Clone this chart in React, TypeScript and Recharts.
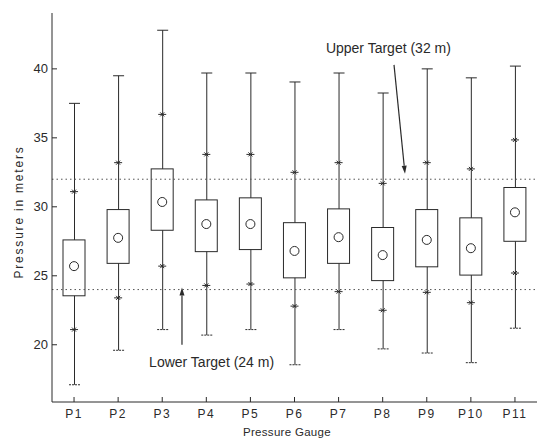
import React from 'react';
import { ComposedChart, Bar, Line, XAxis, YAxis, ReferenceLine, ReferenceDot } from 'recharts';

const gauges = ['P1', 'P2', 'P3', 'P4', 'P5', 'P6', 'P7', 'P8', 'P9', 'P10', 'P11'];
const minValues = [17.1, 19.6, 21.1, 20.7, 21.1, 18.55, 21.1, 19.7, 19.4, 18.7, 21.2];
const p10Values = [21.1, 23.4, 25.7, 24.3, 24.4, 22.8, 23.85, 22.5, 23.8, 23.05, 25.2];
const q1Values = [23.55, 25.9, 28.3, 26.75, 26.9, 24.85, 25.9, 24.65, 25.65, 25.05, 27.5];
const medianValues = [25.7, 27.75, 30.35, 28.75, 28.75, 26.8, 27.8, 26.5, 27.6, 27.0, 29.6];
const q3Values = [27.6, 29.8, 32.75, 30.5, 30.65, 28.85, 29.85, 28.5, 29.8, 29.2, 31.4];
const p90Values = [31.1, 33.2, 36.7, 33.8, 33.8, 32.5, 33.2, 31.7, 33.2, 32.75, 34.85];
const maxValues = [37.5, 39.5, 42.8, 39.7, 39.7, 39.05, 39.7, 38.25, 40.0, 39.35, 40.2];
const yTicks = [20, 25, 30, 35, 40];
const upperTarget = 32;
const lowerTarget = 24;
const upperLabel = 'Upper Target (32 m)';
const lowerLabel = 'Lower Target (24 m)';

const data = gauges.map((g, i) => ({
  gauge: g,
  idx: i + 1,
  whisker: [minValues[i], maxValues[i]],
  box: [q1Values[i], q3Values[i]],
  median: medianValues[i],
  p10: p10Values[i],
  p90: p90Values[i],
}));

const INK = '#2a2a2a';
const FONT = '"Liberation Sans", Arial, sans-serif';

const WhiskerShape = (props: any) => {
  const { x, y, width, height } = props;
  const top = Math.min(y, y + height);
  const bottom = Math.max(y, y + height);
  const cx = x + width / 2;
  return (
    <g stroke={INK} strokeWidth={1} fill="none">
      <line x1={cx} y1={top} x2={cx} y2={bottom} />
      <line x1={x} y1={top} x2={x + width} y2={top} />
      <line x1={x} y1={bottom} x2={x + width} y2={bottom} strokeDasharray="2 1" />
    </g>
  );
};

const BoxShape = (props: any) => {
  const { x, y, width, height } = props;
  const top = Math.min(y, y + height);
  const h = Math.abs(height);
  return <rect x={x} y={top} width={width} height={h} fill="#fff" stroke={INK} strokeWidth={1} />;
};

const CircleDot = (props: any) => {
  const { cx, cy, index } = props;
  if (cx == null || cy == null) return <g key={`c${index}`} />;
  return <circle key={`c${index}`} cx={cx} cy={cy} r={4.5} fill="none" stroke={INK} strokeWidth={1} />;
};

const XMark = (props: any) => {
  const { cx, cy, index, dataKey } = props;
  if (cx == null || cy == null) return <g key={`x${dataKey}${index}`} />;
  return (
    <g key={`x${dataKey}${index}`} stroke={INK} strokeWidth={1}>
      <line x1={cx - 4} y1={cy} x2={cx + 4} y2={cy} />
      <line x1={cx - 2} y1={cy - 2} x2={cx + 2} y2={cy + 2} />
      <line x1={cx - 2} y1={cy + 2} x2={cx + 2} y2={cy - 2} />
    </g>
  );
};

const ArrowShape = (props: any) => {
  const { x1, y1, x2, y2 } = props;
  const ang = Math.atan2(y2 - y1, x2 - x1);
  const len = 8;
  const half = 2.5;
  const bx = x2 - len * Math.cos(ang);
  const by = y2 - len * Math.sin(ang);
  const px = -Math.sin(ang) * half;
  const py = Math.cos(ang) * half;
  return (
    <g>
      <line x1={x1} y1={y1} x2={bx} y2={by} stroke={INK} strokeWidth={1.2} />
      <polygon points={`${x2},${y2} ${bx + px},${by + py} ${bx - px},${by - py}`} fill={INK} />
    </g>
  );
};

const BottomTick = (props: any) => {
  const { x, y, payload } = props;
  return (
    <g>
      <line x1={x} y1={y} x2={x} y2={y - 5} stroke={INK} strokeWidth={1} />
      <text x={x} y={y + 12} textAnchor="middle" dominantBaseline="central" fontSize={12} letterSpacing={1.5} fill={INK} fontFamily={FONT}>
        {payload.value}
      </text>
    </g>
  );
};

const TopTick = (props: any) => {
  const { x, y } = props;
  return <line x1={x} y1={y} x2={x} y2={y + 5} stroke={INK} strokeWidth={1} />;
};

const LeftTick = (props: any) => {
  const { x, y, payload } = props;
  return (
    <g>
      <line x1={x} y1={y} x2={x + 5} y2={y} stroke={INK} strokeWidth={1} />
      <text x={x - 4} y={y} textAnchor="end" dominantBaseline="central" fontSize={13} fill={INK} fontFamily={FONT}>
        {payload.value}
      </text>
    </g>
  );
};

const RightTick = (props: any) => {
  const { x, y } = props;
  return <line x1={x} y1={y} x2={x - 5} y2={y} stroke={INK} strokeWidth={1} />;
};

const YLabel = () => (
  <text
    x={19}
    y={212}
    transform="rotate(-90 19 212)"
    textAnchor="middle"
    dominantBaseline="central"
    fontSize={12}
    letterSpacing={1.8}
    fill={INK}
    fontFamily={FONT}
  >
    Pressure in meters
  </text>
);

const XLabel = () => (
  <text x={287} y={432} textAnchor="middle" dominantBaseline="central" fontSize={11.5} letterSpacing={0.3} fill={INK} fontFamily={FONT}>
    Pressure Gauge
  </text>
);

export default function App() {
  return (
    <div style={{ position: 'absolute', left: 0, top: 0, background: '#fff' }}>
      <ComposedChart width={539} height={439} data={data} margin={{ top: 13, right: 2, bottom: 0, left: 0 }} style={{ fontFamily: FONT }}>
        <XAxis
          xAxisId="w"
          dataKey="gauge"
          type="category"
          orientation="bottom"
          height={37}
          interval={0}
          stroke={INK}
          tickLine={false}
          tickSize={0}
          tickMargin={0}
          tick={<BottomTick />}
          label={<XLabel />}
        />
        <XAxis
          xAxisId="top"
          dataKey="gauge"
          type="category"
          orientation="top"
          height={0}
          interval={0}
          stroke={INK}
          tickLine={false}
          tickSize={0}
          tickMargin={0}
          tick={<TopTick />}
        />
        <XAxis xAxisId="n" dataKey="idx" type="number" orientation="top" height={0} domain={[0.5, 11.5]} hide allowDataOverflow />
        <YAxis
          yAxisId="l"
          orientation="left"
          width={52}
          domain={[15.85, 44.05]}
          ticks={yTicks}
          allowDataOverflow
          stroke={INK}
          tickLine={false}
          tickSize={0}
          tickMargin={0}
          tick={<LeftTick />}
          label={<YLabel />}
        />
        <YAxis
          yAxisId="r"
          orientation="right"
          width={0}
          domain={[15.85, 44.05]}
          ticks={yTicks}
          allowDataOverflow
          stroke={INK}
          tickLine={false}
          tickSize={0}
          tickMargin={0}
          tick={<RightTick />}
        />
        <ReferenceLine xAxisId="n" yAxisId="l" y={upperTarget} stroke="#555" strokeDasharray="1.5 3" strokeWidth={1} />
        <ReferenceLine xAxisId="n" yAxisId="l" y={lowerTarget} stroke="#555" strokeDasharray="1.5 3" strokeWidth={1} />
        <Bar xAxisId="w" yAxisId="l" dataKey="whisker" barSize={11} shape={WhiskerShape} isAnimationActive={false} />
        <Bar xAxisId="top" yAxisId="l" dataKey="box" barSize={22} shape={BoxShape} isAnimationActive={false} />
        <Line xAxisId="n" yAxisId="l" dataKey="median" stroke="none" dot={CircleDot} activeDot={false} isAnimationActive={false} />
        <Line xAxisId="w" yAxisId="r" dataKey="p90" stroke="none" dot={XMark} activeDot={false} isAnimationActive={false} />
        <Line xAxisId="w" yAxisId="r" dataKey="p10" stroke="none" dot={XMark} activeDot={false} isAnimationActive={false} />
        <ReferenceLine
          xAxisId="n"
          yAxisId="l"
          segment={[{ x: 8.257, y: 40.29 }, { x: 8.506, y: 32.4 }]}
          shape={ArrowShape}
        />
        <ReferenceLine
          xAxisId="n"
          yAxisId="l"
          segment={[{ x: 3.448, y: 20.0 }, { x: 3.448, y: 24.15 }]}
          shape={ArrowShape}
        />
        <ReferenceDot
          xAxisId="n"
          yAxisId="l"
          x={8.13}
          y={41.52}
          r={0}
          fill="none"
          stroke="none"
          label={{ value: upperLabel, position: 'center', fontSize: 14, fill: INK, fontFamily: FONT }}
        />
        <ReferenceDot
          xAxisId="n"
          yAxisId="l"
          x={4.12}
          y={18.77}
          r={0}
          fill="none"
          stroke="none"
          label={{ value: lowerLabel, position: 'center', fontSize: 14, fill: INK, fontFamily: FONT }}
        />
      </ComposedChart>
    </div>
  );
}
